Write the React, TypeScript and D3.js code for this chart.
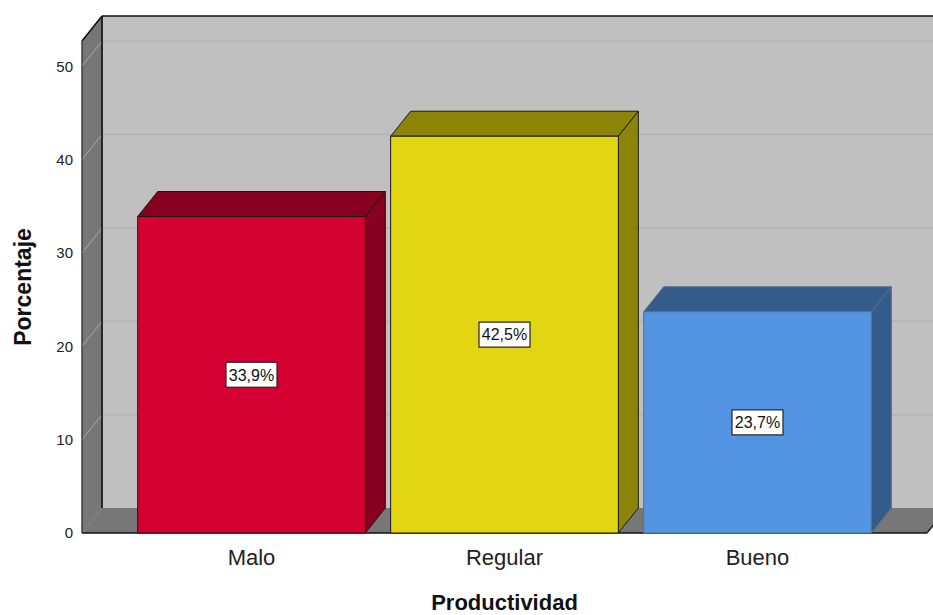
import React from "react";
import * as d3 from "d3";

const categories = ["Malo", "Regular", "Bueno"];
const values = [33.9, 42.5, 23.7];
const yTicks = [0, 10, 20, 30, 40, 50];
const yMax = 52.7;

const frontColors = ["#d50032", "#e2d511", "#5395e3"];
const darkColors = ["#87001f", "#8c8407", "#335c8c"];
const strokeColors = ["#1a1a1a", "#1a1a1a", "#5d6f82"];

const W = 933;
const H = 615;
const DX = 20;
const DY = -25;
const FONT = "'Liberation Sans', Arial, sans-serif";

export default function App() {
  const left = 82;
  const right = 927;
  const x = d3
    .scaleBand<string>()
    .domain(categories)
    .range([left, right])
    .paddingInner(0.1)
    .paddingOuter(0.22);
  const y = d3.scaleLinear().domain([0, yMax]).range([533, 41]);
  const y0 = y(0);
  const yTop = y(yMax);
  const fmt = (v: number) => v.toFixed(1).replace(".", ",") + "%";
  const pts = (p: [number, number][]) => p.map((q) => q.join(",")).join(" ");

  return (
    <svg
      width={W}
      height={H}
      style={{ position: "absolute", left: 0, top: 0, background: "#fff" }}
      fontFamily={FONT}
    >
      {/* back wall */}
      <rect x={left + DX} y={yTop + DY} width={right - left + 40} height={y0 - yTop} fill="#c0c0c0" />
      {/* gridlines on back wall */}
      {yTicks.slice(1).map((t) => (
        <line key={"g" + t} x1={left + DX} x2={W + 20} y1={y(t) + DY} y2={y(t) + DY} stroke="#b2b2b2" strokeWidth={1.5} />
      ))}
      {/* left wall */}
      <polygon
        points={pts([
          [left, y0],
          [left, yTop],
          [left + DX, yTop + DY],
          [left + DX, y0 + DY],
        ])}
        fill="#777777"
        stroke="#333"
        strokeWidth={1}
      />
      {yTicks.map((t) => (
        <line key={"d" + t} x1={left} y1={y(t)} x2={left + DX} y2={y(t) + DY} stroke="#a9a9a9" strokeWidth={1} />
      ))}
      {/* floor */}
      <polygon
        points={pts([
          [left, y0],
          [right, y0],
          [right + DX, y0 + DY],
          [left + DX, y0 + DY],
        ])}
        fill="#777777"
      />
      <line x1={right} y1={y0} x2={right + DX} y2={y0 + DY} stroke="#222" strokeWidth={1.5} />
      {/* wall edges */}
      <line x1={left + DX} y1={yTop + DY} x2={left + DX} y2={y0 + DY} stroke="#111" strokeWidth={1.5} />
      <line x1={left} y1={yTop} x2={left + DX} y2={yTop + DY} stroke="#111" strokeWidth={1.5} />
      <line x1={left + DX} y1={yTop + DY} x2={W + 20} y2={yTop + DY} stroke="#111" strokeWidth={1.5} />
      <line x1={left} y1={yTop} x2={left} y2={y0} stroke="#444" strokeWidth={1} />
      <line x1={left} y1={y0} x2={right} y2={y0} stroke="#111" strokeWidth={1.5} />

      {/* bars */}
      {categories.map((c, i) => {
        const bx = x(c) as number;
        const bw = x.bandwidth();
        const by = y(values[i]);
        return (
          <g key={c} stroke={strokeColors[i]} strokeWidth={1} strokeLinejoin="round">
            <polygon
              points={pts([
                [bx, by],
                [bx + DX, by + DY],
                [bx + bw + DX, by + DY],
                [bx + bw, by],
              ])}
              fill={darkColors[i]}
            />
            <polygon
              points={pts([
                [bx + bw, by],
                [bx + bw + DX, by + DY],
                [bx + bw + DX, y0 + DY],
                [bx + bw, y0],
              ])}
              fill={darkColors[i]}
            />
            <rect x={bx} y={by} width={bw} height={y0 - by} fill={frontColors[i]} />
          </g>
        );
      })}

      {/* value labels */}
      {categories.map((c, i) => {
        const cx = (x(c) as number) + x.bandwidth() / 2;
        const cy = (y(values[i]) + y0) / 2;
        const label = fmt(values[i]);
        const bw = label.length * 8.6 + 8;
        return (
          <g key={"l" + c}>
            <rect x={cx - bw / 2} y={cy - 12.5} width={bw} height={25} fill="#fff" stroke="#222" strokeWidth={1.2} />
            <text x={cx} y={cy} dy="0.36em" textAnchor="middle" fontSize={16} fill="#111">
              {label}
            </text>
          </g>
        );
      })}

      {/* y tick labels */}
      {yTicks.map((t) => (
        <text key={"t" + t} x={left - 9} y={y(t)} dy="0.36em" textAnchor="end" fontSize={15} fill="#222">
          {t}
        </text>
      ))}
      {/* x category labels */}
      {categories.map((c) => (
        <text
          key={"c" + c}
          x={(x(c) as number) + x.bandwidth() / 2}
          y={y0 + 24}
          dy="0.36em"
          textAnchor="middle"
          fontSize={22}
          fill="#222"
        >
          {c}
        </text>
      ))}
      {/* axis titles */}
      <text x={(left + right) / 2} y={610} textAnchor="middle" fontSize={22} fontWeight="bold" fill="#111">
        Productividad
      </text>
      <text
        transform={`translate(23, ${(y0 + yTop) / 2}) rotate(-90)`}
        dy="0.36em"
        textAnchor="middle"
        fontSize={23}
        fontWeight="bold"
        fill="#111"
      >
        Porcentaje
      </text>
    </svg>
  );
}
